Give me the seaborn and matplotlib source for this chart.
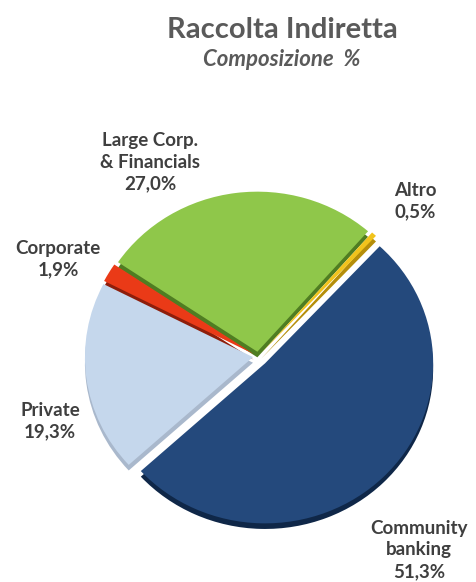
import matplotlib
matplotlib.use("Agg")
import matplotlib.pyplot as plt
import seaborn as sns

# Composition of indirect deposits by business line (%)
segments = ["Community\nbanking", "Private", "Corporate", "Large Corp.\n& Financials", "Altro"]
shares = [51.3, 19.3, 1.9, 27.0, 0.5]
share_labels = ["51,3%", "19,3%", "1,9%", "27,0%", "0,5%"]

title = "Raccolta Indiretta"
subtitle = "Composizione  %"

sns.set_theme(style="white")
plt.rcParams["font.family"] = ["Lato", "DejaVu Sans"]

face = sns.color_palette(["#24497c", "#c5d7ec", "#ea3a17", "#8fc74a", "#f1c31c"])
side = sns.color_palette(["#0f2748", "#a9b8cc", "#8e1e0b", "#4f7d22", "#b58e0a"])
explode = [0.06, 0.03, 0.03, 0.03, 0.03]

fig = plt.figure(figsize=(4.76, 5.82), dpi=100)
ax = fig.add_axes([0.083, 0.03, 0.918, 0.715])

# darker copy underneath gives the slices a little thickness
ax.pie(shares, colors=side, startangle=47, counterclock=False, explode=explode,
       center=(0, -0.035), wedgeprops=dict(linewidth=0))
ax.pie(shares, colors=face, startangle=47, counterclock=False, explode=explode,
       wedgeprops=dict(linewidth=0))
ax.set_xlim(-1.3, 1.3)
ax.set_ylim(-1.3, 1.3)
ax.set_aspect("auto")
ax.axis("off")

label_color = "#3f3f3f"
label_pos = {
    0: (419, 550),
    1: (50, 421),
    2: (58, 259),
    3: (150, 162),
    4: (415, 201),
}
for i, (x, y) in label_pos.items():
    fig.text(x / 476, 1 - y / 582, f"{segments[i]}\n{share_labels[i]}",
             ha="center", va="center", fontsize=13.5, fontweight="bold",
             color=label_color, linespacing=1.35)

fig.text(282 / 476, 1 - 30 / 582, title, ha="center", va="center",
         fontsize=21, fontweight="bold", color="#5a5a5a")
fig.text(282 / 476, 1 - 60 / 582, subtitle, ha="center", va="center",
         fontsize=16, fontstyle="italic", fontweight="bold", color="#5a5a5a")

fig.savefig("out.png", dpi=100, facecolor="white")
